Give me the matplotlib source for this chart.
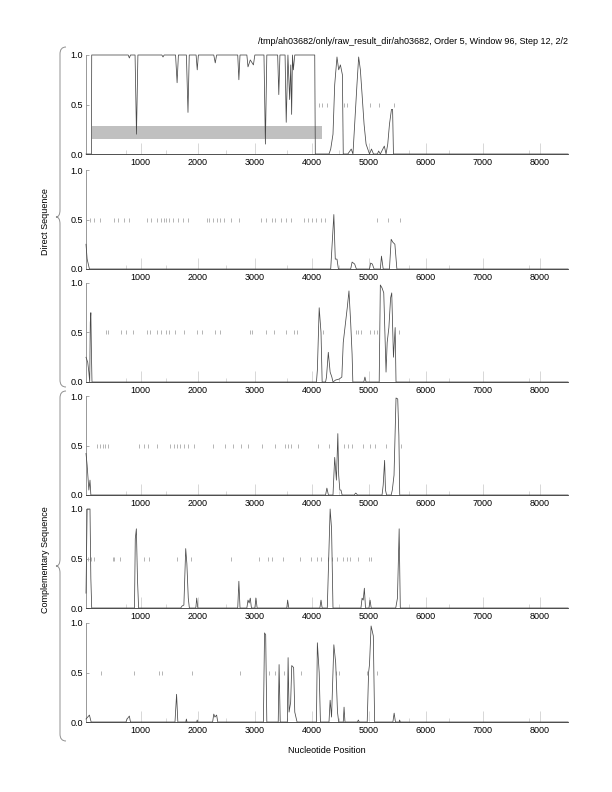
import matplotlib
matplotlib.use("Agg")
import matplotlib.pyplot as plt
from matplotlib.path import Path
from matplotlib.patches import PathPatch, Rectangle
from matplotlib.ticker import FixedLocator

plt.rcParams['font.family'] = ['Liberation Sans', 'DejaVu Sans']
plt.rcParams['font.size'] = 6.5

title = "/tmp/ah03682/only/raw_result_dir/ah03682, Order 5, Window 96, Step 12, 2/2"
xmin, xmax = 40, 8490
major_ticks = [1000, 2000, 3000, 4000, 5000, 6000, 7000, 8000]
minor_ticks = [744, 1449, 2494, 3571, 4468, 5705, 6400, 7814]
gray_box = (140, 4185, 0.15, 0.28)  # x0, x1, y0, y1 in panel 1

# coding potential curves, (position, probability)
curve1 = [(40, 0), (135, 0), (140, 1), (780, 1), (800, 0.97), (820, 1), (900, 1), (925, 0.2),
          (950, 1), (1370, 1), (1390, 0.98), (1410, 1), (1610, 1), (1637, 0.72), (1660, 1),
          (1800, 1), (1828, 0.42), (1850, 1), (1970, 1), (1990, 0.85), (2010, 1), (2280, 1),
          (2306, 0.92), (2330, 1), (2700, 1), (2720, 0.75), (2740, 1), (2860, 1), (2880, 0.88),
          (2920, 0.95), (2975, 0.9), (3000, 1), (3160, 1), (3185, 0.1), (3210, 1), (3400, 1),
          (3420, 0.6), (3440, 1), (3530, 1), (3550, 0.32), (3580, 1), (3610, 0.55), (3630, 0.9),
          (3645, 0.4), (3660, 1), (3675, 0.85), (3700, 1), (4050, 1), (4060, 0), (4300, 0),
          (4330, 0.05), (4370, 0.2), (4400, 0.7), (4440, 0.98), (4470, 0.85), (4500, 0.9),
          (4535, 0.8), (4550, 0), (4630, 0), (4690, 0.05), (4720, 0), (4760, 0.4), (4790, 0.7),
          (4820, 0.98), (4850, 0.85), (4880, 0.6), (4915, 0.3), (4950, 0.1), (4980, 0.05),
          (5010, 0), (5045, 0.05), (5080, 0), (5150, 0), (5170, 0.03), (5200, 0), (5270, 0.08),
          (5300, 0), (5330, 0.1), (5360, 0.3), (5395, 0.45), (5415, 0.45), (5430, 0), (xmax, 0)]
curve2 = [(40, 0.25), (60, 0.1), (100, 0), (4330, 0), (4360, 0.3), (4385, 0.55), (4410, 0.1),
          (4440, 0.1), (4465, 0), (4680, 0), (4705, 0.07), (4750, 0.05), (4780, 0), (5010, 0),
          (5030, 0.06), (5060, 0.05), (5090, 0), (5200, 0), (5220, 0.13), (5250, 0), (5360, 0),
          (5390, 0.3), (5420, 0.27), (5455, 0.25), (5490, 0), (xmax, 0)]
curve3 = [(40, 0.25), (70, 0.2), (90, 0.1), (105, 0), (115, 0.6), (125, 0.7), (135, 0.3),
          (145, 0), (4080, 0), (4096, 0.12), (4128, 0.75), (4160, 0.5), (4180, 0), (4240, 0),
          (4256, 0.05), (4288, 0.3), (4320, 0.1), (4350, 0.05), (4370, 0), (4416, 0.02),
          (4480, 0.03), (4525, 0.05), (4550, 0.4), (4590, 0.6), (4620, 0.75), (4650, 0.92),
          (4680, 0.6), (4705, 0.28), (4718, 0), (4910, 0), (4930, 0.05), (4950, 0), (5180, 0),
          (5200, 0.98), (5230, 0.95), (5260, 0.9), (5280, 0.5), (5300, 0.1), (5320, 0.4),
          (5350, 0.55), (5380, 0.85), (5400, 0.9), (5430, 0.25), (5460, 0.55), (5475, 0), (xmax, 0)]
curve4 = [(40, 0.42), (60, 0.3), (90, 0.05), (110, 0.15), (125, 0), (4240, 0), (4263, 0.07),
          (4290, 0), (4370, 0), (4400, 0.38), (4430, 0.15), (4455, 0.62), (4470, 0.2),
          (4490, 0.05), (4510, 0.05), (4530, 0), (4740, 0), (4770, 0.02), (4800, 0), (5230, 0),
          (5250, 0.1), (5275, 0.35), (5290, 0.05), (5310, 0), (5390, 0), (5410, 0.05),
          (5440, 0.2), (5475, 0.98), (5505, 0.97), (5525, 0.6), (5540, 0), (xmax, 0)]
curve5 = [(40, 0.15), (60, 1.0), (110, 1.0), (125, 0.3), (140, 0), (890, 0), (904, 0.7),
          (923, 0.8), (942, 0.3), (962, 0), (1700, 0), (1724, 0.02), (1756, 0.03), (1788, 0.6),
          (1808, 0.45), (1833, 0.1), (1852, 0), (1965, 0), (1981, 0.1), (2000, 0), (2700, 0),
          (2720, 0.27), (2740, 0), (2860, 0), (2880, 0.08), (2900, 0.05), (2920, 0.1), (2940, 0),
          (3000, 0), (3020, 0.1), (3040, 0), (3560, 0), (3575, 0.08), (3595, 0), (4140, 0),
          (4160, 0.08), (4180, 0), (4270, 0), (4300, 0.6), (4320, 1.0), (4345, 0.8), (4370, 0),
          (4860, 0), (4880, 0.1), (4900, 0.08), (4920, 0.2), (4940, 0), (5000, 0), (5020, 0.08),
          (5040, 0), (5470, 0), (5500, 0.1), (5530, 0.8), (5550, 0), (xmax, 0)]
curve6 = [(40, 0.03), (100, 0.07), (130, 0), (740, 0), (760, 0.03), (800, 0.06), (820, 0),
          (1600, 0), (1628, 0.28), (1650, 0), (1790, 0), (1800, 0.03), (1810, 0), (1980, 0),
          (1990, 0.02), (2000, 0), (2260, 0), (2280, 0.08), (2300, 0.05), (2330, 0.07), (2350, 0),
          (3150, 0), (3170, 0.9), (3190, 0.88), (3210, 0), (3410, 0), (3425, 0.58), (3445, 0),
          (3570, 0), (3583, 0.65), (3600, 0.1), (3628, 0.2), (3647, 0.57), (3680, 0.55),
          (3700, 0.1), (3720, 0.05), (3740, 0), (4080, 0), (4096, 0.8), (4128, 0.5), (4150, 0),
          (4300, 0), (4320, 0.22), (4345, 0.05), (4385, 0.78), (4417, 0.6), (4449, 0.1),
          (4470, 0), (4550, 0), (4564, 0.15), (4580, 0), (4800, 0), (4814, 0.02), (4830, 0),
          (4970, 0), (4994, 0.5), (5010, 0.58), (5038, 0.97), (5077, 0.87), (5100, 0), (5420, 0),
          (5442, 0.09), (5465, 0), (5530, 0), (5538, 0.02), (5550, 0), (xmax, 0)]

# stop-codon marks drawn at y = 0.5
marks1 = [4121, 4185, 4260, 4567, 4615, 5013, 5172, 5446]
marks2 = [109, 186, 282, 526, 603, 699, 795, 1103, 1179, 1276, 1359, 1404, 1449, 1500, 1564, 1647,
          1744, 1821, 2154, 2205, 2269, 2333, 2385, 2462, 2577, 2731, 3115, 3199, 3295, 3359, 3455,
          3551, 3628, 3859, 3936, 4000, 4064, 4160, 4224, 5141, 5333, 5538]
marks3 = [397, 423, 654, 744, 859, 1115, 1167, 1276, 1353, 1436, 1500, 1596, 1756, 1981, 2077,
          2301, 2397, 2910, 2942, 3199, 3340, 3551, 3679, 3744, 4192, 4769, 4814, 4865, 5026, 5090,
          5135, 5526]
marks4 = [237, 282, 333, 378, 429, 968, 1051, 1128, 1276, 1519, 1577, 1628, 1692, 1756, 1833, 1936,
          2269, 2481, 2622, 2750, 2878, 3122, 3346, 3532, 3583, 3635, 3756, 4115, 4308, 4558, 4628,
          4705, 4897, 5026, 5109, 5295, 5571]
marks5 = [77, 122, 186, 506, 538, 635, 1051, 1147, 1628, 1885, 2577, 3071, 3231, 3295, 3487, 3795,
          3987, 4096, 4160, 4288, 4353, 4449, 4545, 4609, 4673, 4801, 4994, 5038]
marks6 = [301, 878, 1327, 1372, 1904, 2737, 3244, 3359, 3519, 3808, 4417, 4468, 4962, 5135]

curves = [curve1, curve2, curve3, curve4, curve5, curve6]
marks = [marks1, marks2, marks3, marks4, marks5, marks6]

W, H = 612, 792
fig = plt.figure(figsize=(W / 100, H / 100), dpi=100)

left_px, right_px = 86, 568
tops = [55, 170, 283, 396, 509, 623]
hgt = 99

for i in range(6):
    ax = fig.add_axes([left_px / W, 1 - (tops[i] + hgt) / H, (right_px - left_px) / W, hgt / H])
    xs = [p[0] for p in curves[i]]
    ys = [p[1] for p in curves[i]]
    if i == 0:
        x0, x1, y0, y1 = gray_box
        ax.add_patch(Rectangle((x0, y0), x1 - x0, y1 - y0, color='#c0c0c0', lw=0, zorder=1))
    ax.plot(xs, ys, color='#484848', lw=0.55, zorder=3, clip_on=False)
    ax.plot(marks[i], [0.5] * len(marks[i]), ls='none', marker='|', ms=3.5, mew=0.6,
            color='#a8a8a8', zorder=2)
    ax.set_xlim(xmin, xmax)
    ax.set_ylim(0, 1)
    ax.spines['top'].set_visible(False)
    ax.spines['right'].set_visible(False)
    for s in ('left', 'bottom'):
        ax.spines[s].set_linewidth(0.6)
        ax.spines[s].set_color('#333333')
    ax.spines['left'].set_color('#888888')
    ax.set_yticks([0, 0.5, 1.0])
    ax.set_yticklabels(['0.0', '0.5', '1.0'])
    ax.xaxis.set_major_locator(FixedLocator(major_ticks))
    ax.xaxis.set_minor_locator(FixedLocator(minor_ticks))
    ax.set_xticklabels([str(t) for t in major_ticks])
    ax.tick_params(axis='x', which='major', direction='in', length=8, width=0.5,
                   color='#c8c8c8', pad=3, labelsize=6.5)
    ax.tick_params(axis='x', which='minor', direction='in', length=3, width=0.5, color='#c8c8c8')
    ax.tick_params(axis='y', direction='in', length=2, width=0.5, color='#888888', pad=2,
                   labelsize=6.5)
    ax.patch.set_visible(False)
    if i == 5:
        ax.set_xlabel('Nucleotide Position', fontsize=6.5, labelpad=8)

fig.text(568 / W, 1 - 42 / H, title, ha='right', va='center', fontsize=6.5)


def brace(y_top, y_bot, x_out=66, x_in=60, x_tip=56):
    ym = (y_top + y_bot) / 2
    pts = [(x_out, y_top), (x_in, y_top), (x_in, y_top + 7),
           (x_in, ym - 7), (x_in, ym), (x_tip, ym),
           (x_in, ym), (x_in, ym + 7),
           (x_in, y_bot - 7), (x_in, y_bot), (x_out, y_bot)]
    codes = [Path.MOVETO, Path.CURVE3, Path.CURVE3,
             Path.LINETO, Path.CURVE3, Path.CURVE3,
             Path.CURVE3, Path.CURVE3,
             Path.LINETO, Path.CURVE3, Path.CURVE3]
    verts = [(x / W, 1 - y / H) for x, y in pts]
    fig.patches.append(PathPatch(Path(verts, codes), transform=fig.transFigure,
                                 fill=False, lw=0.7, color='#909090'))


brace(47, 387)
brace(391, 741)
fig.text(46 / W, 1 - 222 / H, 'Direct Sequence', rotation=90, ha='center', va='center',
         fontsize=6.5)
fig.text(46 / W, 1 - 560 / H, 'Complementary Sequence', rotation=90, ha='center', va='center',
         fontsize=6.5)

fig.savefig('out.png', dpi=100)
